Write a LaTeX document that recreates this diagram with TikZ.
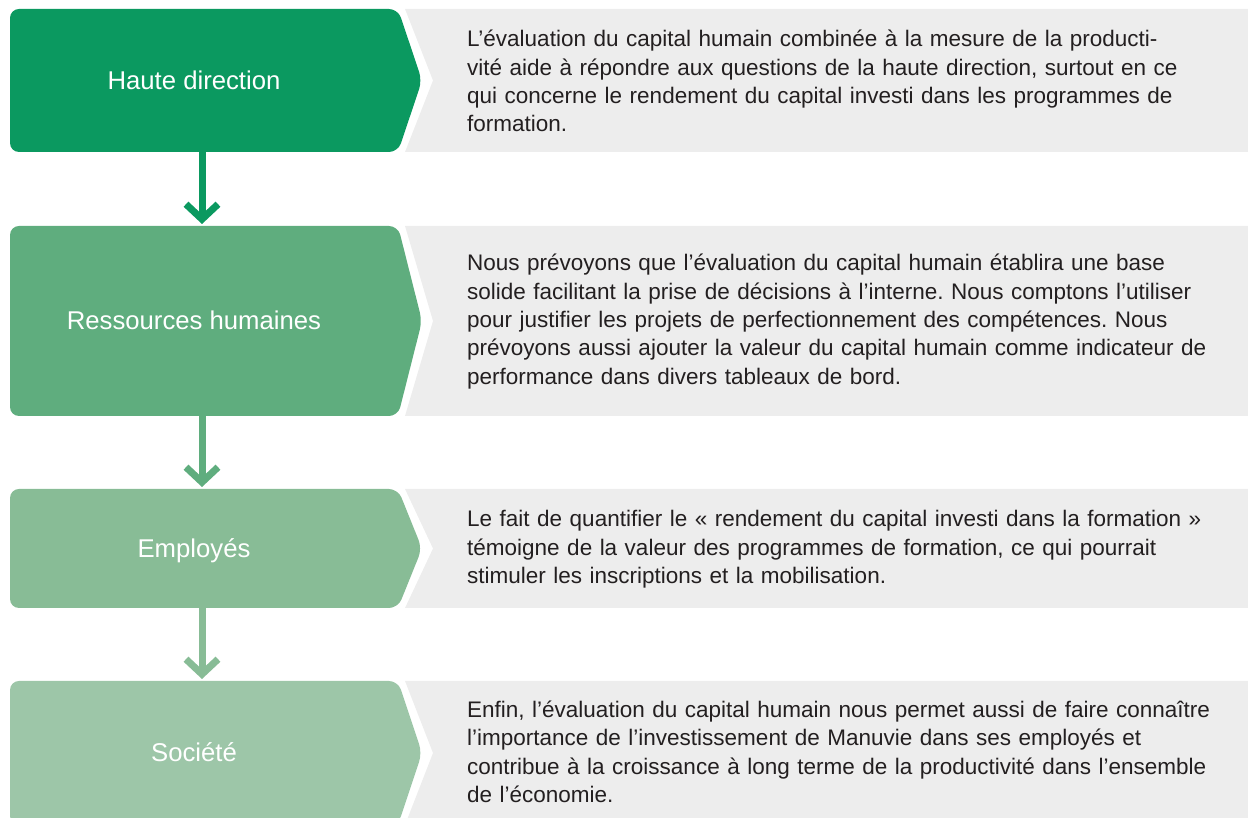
\documentclass[tikz,border=0pt]{standalone}
\usepackage{fontspec}
\setmainfont{Liberation Sans}
\usetikzlibrary{calc,arrows.meta}
\frenchspacing
\definecolor{cA}{HTML}{0B9960}
\definecolor{cB}{HTML}{5FAD7E}
\definecolor{cC}{HTML}{88BC96}
\definecolor{cD}{HTML}{9DC6A8}
\definecolor{panel}{HTML}{EDEDED}
\definecolor{ink}{HTML}{231F20}
\newcommand{\stagebox}[2]{%
  \fill[#2, rounded corners=9pt] (#1.north west) -- (#1.north east) -- ($(#1.east)+(24,0)$) -- (#1.south east) -- (#1.south west) -- cycle;
  \fill[panel] ($(#1.north east)+(7,0)$) -- (#1.north -| R) -- (#1.south -| R) -- ($(#1.south east)+(7,0)$) -- ($(#1.east)+(35,0)$) -- cycle;
}
\tikzset{
  x=1pt, y=1pt,
  stagenode/.style={minimum width=388pt, inner sep=0pt, outer sep=0pt, draw=none},
  stagelabel/.style={anchor=base, text=white, inner sep=0pt, font={\fontsize{25.7}{30}\selectfont}},
  bodytext/.style={anchor=base west, text=ink, inner sep=0pt, text width=775pt, align=left, font={\fontsize{22.5}{28.4}\selectfont\frenchspacing}},
  flowarrow/.style={draw=#1, line width=7pt, shorten >=2pt, -{Straight Barb[length=15pt, width=32pt, line width=7pt]}}
}
\begin{document}
\begin{tikzpicture}
\useasboundingbox (0,0) rectangle (1248,818);
\clip (0,0) rectangle (1248,818);
\coordinate (R) at (1248,0);
\coordinate (ax) at (202,0);

% stage boxes (geometry)
\node[stagenode, minimum height=143pt] (hd) at (204,737.5) {};
\node[stagenode, minimum height=190pt] (rh) at (204,497) {};
\node[stagenode, minimum height=119pt] (em) at (204,269.5) {};
\node[stagenode, minimum height=144pt] (so) at (204,65) {};

\stagebox{hd}{cA}
\stagebox{rh}{cB}
\stagebox{em}{cC}
\stagebox{so}{cD}

% labels
\node[stagelabel] (hdl) at (194,728.5) {Haute direction};
\node[stagelabel] (rhl) at (194,488) {Ressources humaines};
\node[stagelabel] (eml) at (194,260.5) {Employés};
\node[stagelabel] (sol) at (194,56) {Société};

% connectors
\draw[flowarrow=cA] (hd.south -| ax) -- (rh.north -| ax);
\draw[flowarrow=cB] (rh.south -| ax) -- (em.north -| ax);
\draw[flowarrow=cC] (em.south -| ax) -- (so.north -| ax);

% descriptions
\node[bodytext] (hdt) at (467,771.3) {L’évaluation du capital humain combinée à la mesure de la producti-\\vité aide à répondre aux questions de la haute direction, surtout en ce\\qui concerne le rendement du capital investi dans les programmes de\\formation.};
\node[bodytext] (rht) at (467,547.3) {Nous prévoyons que l’évaluation du capital humain établira une base\\solide facilitant la prise de décisions à l’interne. Nous comptons l’utiliser\\pour justifier les projets de perfectionnement des compétences. Nous\\prévoyons aussi ajouter la valeur du capital humain comme indicateur de\\performance dans divers tableaux de bord.};
\node[bodytext] (emt) at (467,291.3) {Le fait de quantifier le « rendement du capital investi dans la formation »\\témoigne de la valeur des programmes de formation, ce qui pourrait\\stimuler les inscriptions et la mobilisation.};
\node[bodytext] (sot) at (467,100.7) {Enfin, l’évaluation du capital humain nous permet aussi de faire connaître\\l’importance de l’investissement de Manuvie dans ses employés et\\contribue à la croissance à long terme de la productivité dans l’ensemble\\de l’économie.};
\end{tikzpicture}
\end{document}
